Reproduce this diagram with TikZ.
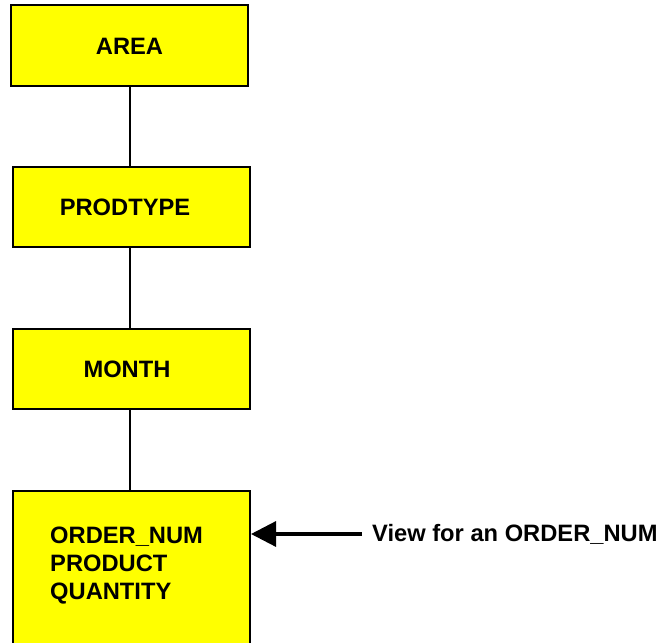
\documentclass[tikz,border=0pt]{standalone}
\usepackage{fontspec}
\setmainfont{Liberation Sans}
\usetikzlibrary{arrows.meta}
\definecolor{boxyellow}{RGB}{255,255,0}
\tikzset{
  levelbox/.style={draw=black, line width=2pt, fill=boxyellow, inner sep=0pt},
  label/.style={font=\fontsize{23.7}{28}\selectfont\bfseries, inner sep=0pt},
  link/.style={line width=2.2pt},
  pointer/.style={line width=3.2pt, -{Triangle[length=25pt,width=25pt]}}
}
\begin{document}
\begin{tikzpicture}[x=1pt,y=-1pt]
  \useasboundingbox (0,0) rectangle (663,642);
  % dimension boxes
  \node[levelbox, minimum width=237pt, minimum height=81pt] (area) at (129.5,45.5) {};
  \node[levelbox, minimum width=237pt, minimum height=80pt] (prod) at (131.5,207) {};
  \node[levelbox, minimum width=237pt, minimum height=80pt] (month) at (131.5,369) {};
  \node[levelbox, minimum width=237pt, minimum height=160pt] (order) at (131.5,571) {};
  % labels
  \node[label] (tarea) at (129.5,46) {AREA};
  \node[label] (tprod) at (125,207) {PRODTYPE};
  \node[label] (tmonth) at (127,369) {MONTH};
  \node[label, anchor=north west, align=left] (torder) at (50,527) {ORDER\_NUM\\PRODUCT\\QUANTITY};
  \node[label, anchor=west] (tview) at (372,534) {View for an ORDER\_NUM};
  % connecting lines
  \draw[link] (130,0 |- area.south) -- (130,0 |- prod.north);
  \draw[link] (130,0 |- prod.south) -- (130,0 |- month.north);
  \draw[link] (130,0 |- month.south) -- (130,0 |- order.north);
  \coordinate (arrowstart) at (362,534);
  \draw[pointer] (arrowstart) -- (order.east |- arrowstart);
\end{tikzpicture}
\end{document}
